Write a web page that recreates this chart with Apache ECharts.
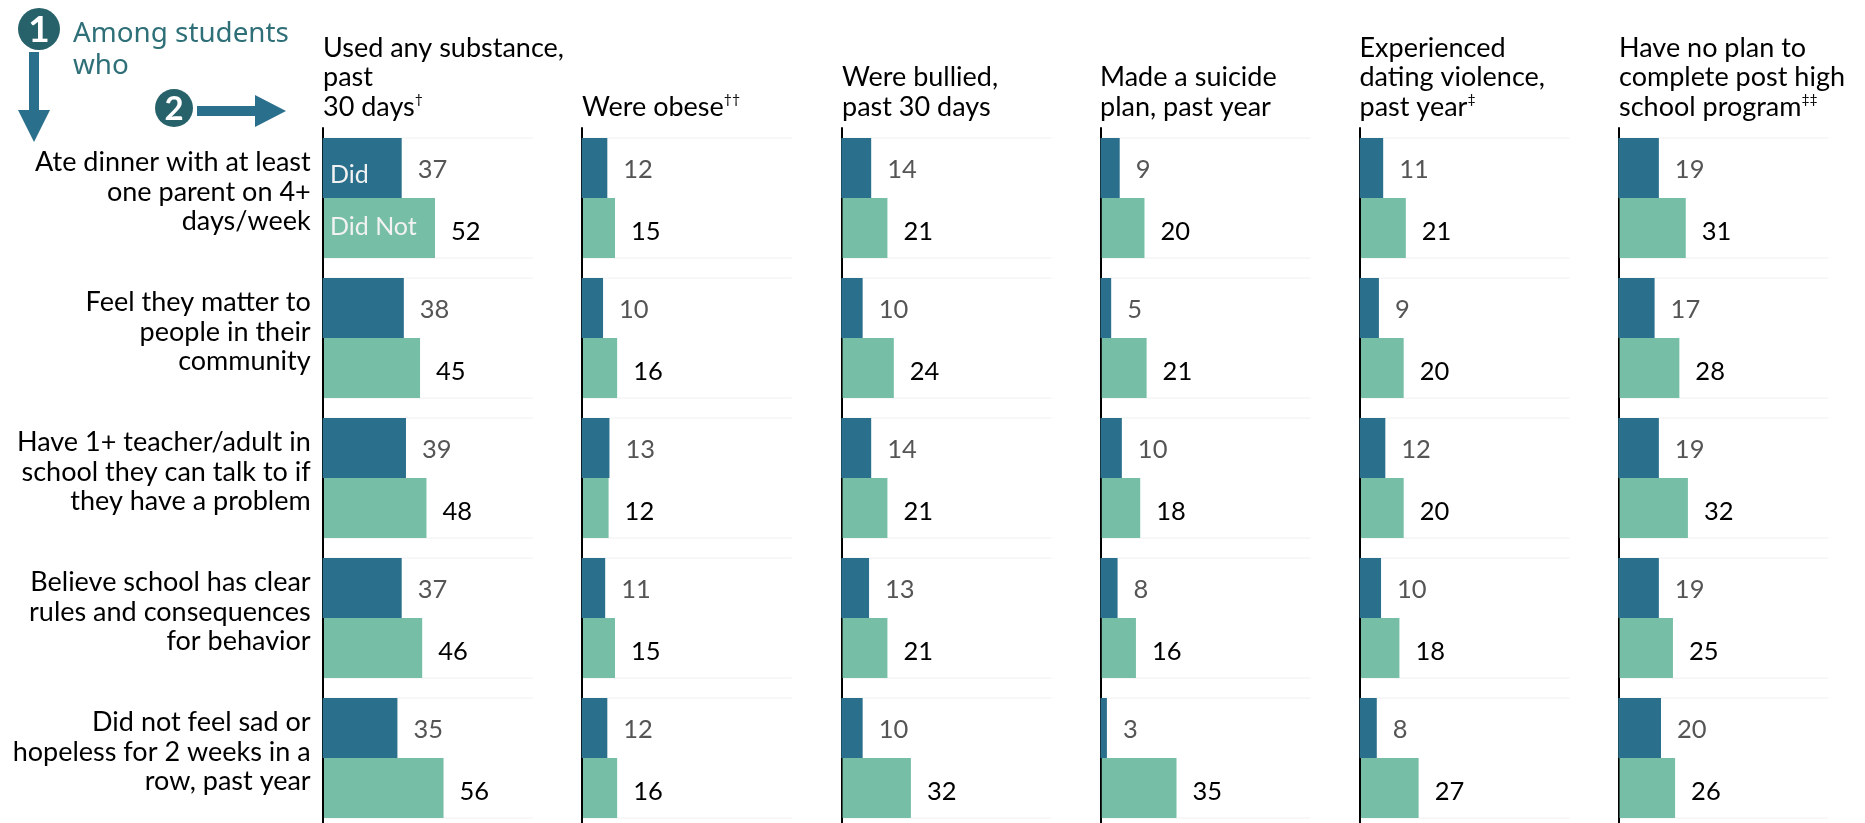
<!DOCTYPE html>
<html><head><meta charset="utf-8">
<style>html,body{margin:0;padding:0;background:#fff;overflow:hidden;height:823px}#w{width:1865px;height:823px;overflow:hidden}#c{width:1865px;height:830px}</style>
<script src="https://cdn.jsdelivr.net/npm/echarts@6/dist/echarts.min.js"></script>
</head><body><div id="w"><div id="c"></div></div>
<script>
const rowLabels = [
  'Ate dinner with at least\none parent on 4+\ndays/week',
  'Feel they matter to\npeople in their\ncommunity',
  'Have 1+ teacher/adult in\nschool they can talk to if\nthey have a problem',
  'Believe school has clear\nrules and consequences\nfor behavior',
  'Did not feel sad or\nhopeless for 2 weeks in a\nrow, past year'
];
const headers = [
  'Used any substance,\npast\n30 days{s|†}',
  'Were obese{s|††}',
  'Were bullied,\npast 30 days',
  'Made a suicide\nplan, past year',
  'Experienced\ndating violence,\npast year{s|‡}',
  'Have no plan to\ncomplete post high\nschool program{s|‡‡}'
];
const did = [
  [37,38,39,37,35],
  [12,10,13,11,12],
  [14,10,14,13,10],
  [9,5,10,8,3],
  [11,9,12,10,8],
  [19,17,19,19,20]
];
const didNot = [
  [52,45,48,46,56],
  [15,16,12,15,16],
  [21,24,21,21,32],
  [20,21,18,16,35],
  [21,20,20,18,27],
  [31,28,32,25,26]
];
const DARK='#2a6f8c', GREEN='#76bea6', TEAL='#27626a', FONT='Lato';
const colLeft=[322.7,581.7,841.3,1100.5,1359.7,1618.3];
const headLeft=[323,582,842,1100,1359.5,1619];
const W=210, RANGE=98.36, SHIFT=0.6, TOP=128, BAND=140, FS=27, H=830, LABEL_RAISE=6;

const grid=[],xAxis=[],yAxis=[],series=[],title=[],graphic=[];
colLeft.forEach((x,i)=>{
  grid.push({left:x,top:TOP,width:W,height:BAND*5,containLabel:false});
  xAxis.push({type:'value',gridIndex:i,min:0,max:RANGE,show:false,splitLine:{show:false}});
  xAxis.push({type:'value',gridIndex:i,min:-SHIFT,max:RANGE-SHIFT,show:false,splitLine:{show:false}});
  yAxis.push({type:'category',gridIndex:i,inverse:true,data:rowLabels,
    axisTick:{show:false},
    axisLine:{show:true,onZero:false,lineStyle:{color:'#000',width:2}},
    axisLabel:{show:false}});
  const lab=(c,dy)=>({show:true,position:'right',distance:16,color:c,fontFamily:FONT,fontSize:25.5,offset:[0,dy]});
  series.push({type:'bar',name:'Did',xAxisIndex:i*2,yAxisIndex:i,data:did[i],barWidth:60,barGap:0,
    itemStyle:{color:DARK},label:lab('#555',2),silent:true,animation:false});
  series.push({type:'bar',name:'Did Not',xAxisIndex:i*2+1,yAxisIndex:i,data:didNot[i],barWidth:60,barGap:0,
    itemStyle:{color:GREEN},label:lab('#000',3.5),silent:true,animation:false});
  title.push({text:headers[i],left:headLeft[i],bottom:H-122,padding:0,
    textStyle:{fontFamily:FONT,fontSize:FS,fontWeight:'normal',color:'#000',lineHeight:29.5,
      rich:{s:{fontFamily:FONT,fontSize:14,color:'#000',lineHeight:29.5,verticalAlign:'top',padding:[0,0,8,0]}}}});
  for(let r=0;r<5;r++){
    [TOP+r*BAND+10,TOP+r*BAND+130].forEach(y=>graphic.push({type:'line',z:0,silent:true,
      shape:{x1:x,y1:y,x2:x+W,y2:y},style:{stroke:'#f0f0f0',lineWidth:1}}));
  }
});
// Row labels sit slightly above the band centres, so they get their own label-only grid.
grid.push({left:colLeft[0],top:TOP-LABEL_RAISE,width:W,height:BAND*5,containLabel:false});
xAxis.push({type:'value',gridIndex:colLeft.length,min:0,max:RANGE,show:false,splitLine:{show:false}});
yAxis.push({type:'category',gridIndex:colLeft.length,inverse:true,data:rowLabels,
  axisTick:{show:false},axisLine:{show:false},
  axisLabel:{show:true,margin:12,fontFamily:FONT,fontSize:FS,color:'#000',align:'right',lineHeight:29.5}});
const txt=(text,x,y,opt)=>({type:'text',z:10,silent:true,x,y,style:Object.assign({text,fontFamily:FONT,fontSize:FS,fill:'#fff'},opt)});
graphic.push(
  {type:'circle',z:10,silent:true,shape:{cx:39,cy:29,r:21},style:{fill:TEAL}},
  txt('1',39,30,{fontSize:37,fontWeight:'bold',align:'center',verticalAlign:'middle'}),
  {type:'rect',z:10,silent:true,shape:{x:29,y:52,width:10,height:58},style:{fill:DARK}},
  {type:'polygon',z:10,silent:true,shape:{points:[[18,110],[50,110],[34,142]]},style:{fill:DARK}},
  {type:'circle',z:10,silent:true,shape:{cx:174,cy:108,r:19},style:{fill:TEAL}},
  txt('2',174,109,{fontSize:33,fontWeight:'bold',align:'center',verticalAlign:'middle'}),
  {type:'rect',z:10,silent:true,shape:{x:197,y:106,width:58,height:10},style:{fill:DARK}},
  {type:'polygon',z:10,silent:true,shape:{points:[[255,95],[286,111],[255,127]]},style:{fill:DARK}},
  txt('Among students\nwho',73,18,{fontFamily:'Noto Sans',fontSize:27.8,lineHeight:32,fill:'#2e6f78'}),
  txt('Did',330,175,{verticalAlign:'middle',fontSize:25,fill:'#f2f2f2'}),
  txt('Did Not',330,227,{verticalAlign:'middle',fontSize:25,fill:'#f2f2f2'})
);
const chart=echarts.init(document.getElementById('c'),null,{renderer:'canvas'});
chart.setOption({animation:false,backgroundColor:'#fff',title,grid,xAxis,yAxis,series,graphic,tooltip:{show:false}});
</script></body></html>
